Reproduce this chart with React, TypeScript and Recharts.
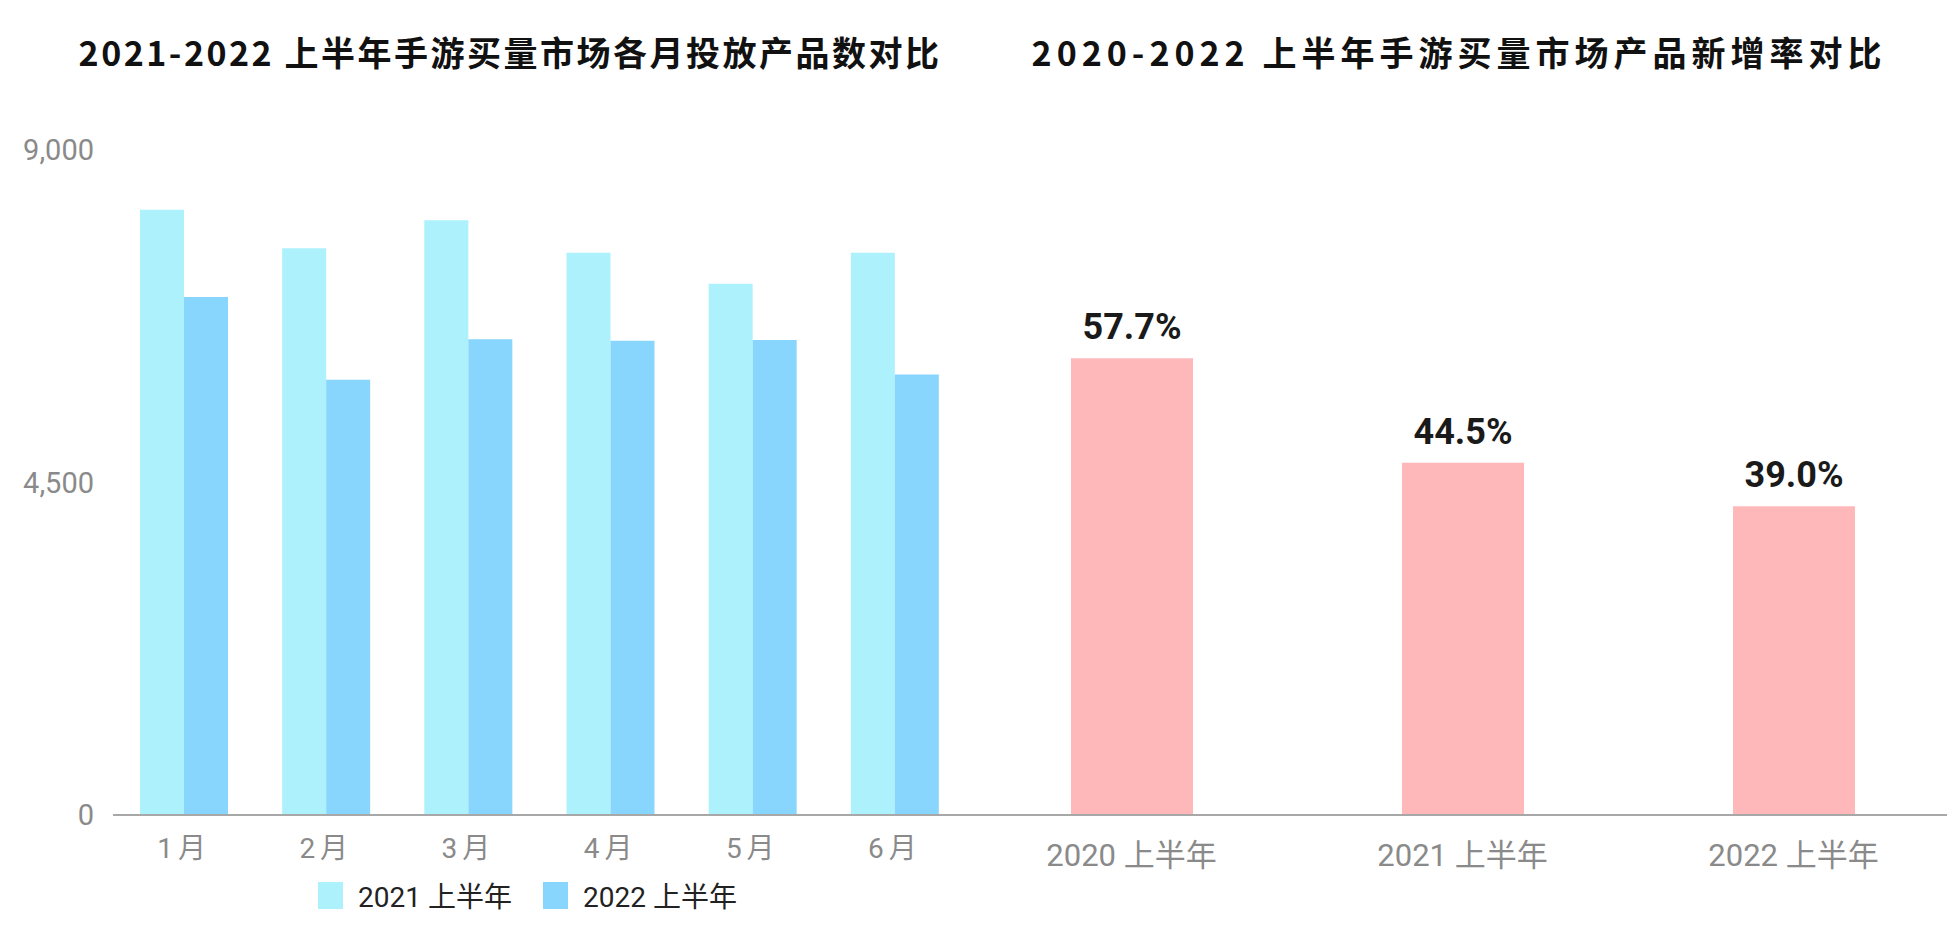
import React from "react";
import { BarChart, Bar, XAxis, YAxis, Legend, LabelList } from "recharts";

// left chart: monthly product counts
const months = ["1月", "2月", "3月", "4月", "5月", "6月"];
const counts2021 = [8190, 7670, 8050, 7610, 7190, 7610];
const counts2022 = [7010, 5890, 6440, 6420, 6430, 5960];
const countTicks = [0, 4500, 9000];

// right chart: new product rate
const halves = ["2020 上半年", "2021 上半年", "2022 上半年"];
const newRates = [57.7, 44.5, 39.0];

const LIGHT = "#adf1fd";
const DARK = "#88d6fd";
const PINK = "#feb8ba";
const AXIS = "#a8a8a8";
const TICK = "#8a8a8a";
const FONT = "Roboto, 'Noto Sans CJK SC', sans-serif";
const TITLE_FONT = "'Noto Sans CJK SC', sans-serif";

const monthData = months.map((m, i) => ({ month: m, y2021: counts2021[i], y2022: counts2022[i] }));
const rateData = halves.map((h, i) => ({ half: h, rate: newRates[i] }));

const LegendBox = ({ payload }: any) => (
    <div style={{ display: "flex", justifyContent: "center", paddingTop: 10, paddingLeft: 120 }}>
        {(payload || []).map((p: any) => (
            <div key={p.value} style={{ display: "flex", alignItems: "center", marginRight: 31 }}>
                <div style={{ width: 25, height: 27, background: p.color, marginRight: 15 }} />
                <span style={{ color: "#222", fontSize: 28, fontFamily: FONT }}>{p.value}</span>
            </div>
        ))}
    </div>
);

export default function App() {
    return (
        <div style={{ position: "absolute", left: 0, top: 0, width: 1947, height: 941, overflow: "hidden", background: "#fff" }}>
            <div style={{ position: "absolute", left: 0, width: 1020, top: 30, textAlign: "center", fontFamily: TITLE_FONT, fontWeight: 700, fontSize: 34, letterSpacing: 2.5, color: "#111", lineHeight: "44px" }}>
                2021-2022 上半年手游买量市场各月投放产品数对比
            </div>
            <div style={{ position: "absolute", left: 966, width: 986, top: 30, textAlign: "center", fontFamily: TITLE_FONT, fontWeight: 700, fontSize: 34, letterSpacing: 5, color: "#111", lineHeight: "44px" }}>
                2020-2022 上半年手游买量市场产品新增率对比
            </div>

            {/* left: grouped bars */}
            <div style={{ position: "absolute", left: 0, top: 0 }}>
                <BarChart width={966} height={941} data={monthData} barGap={0}
                    margin={{ top: 150, right: 0, bottom: 0, left: 0 }}>
                    <XAxis dataKey="month" axisLine={{ stroke: AXIS, strokeWidth: 2 }} tickLine={false}
                        tickMargin={17} height={50} interval={0}
                        tick={{ fill: TICK, fontSize: 28, fontFamily: FONT, letterSpacing: 5 }} />
                    <YAxis width={113} domain={[0, 9000]} ticks={countTicks} axisLine={false} tickLine={false}
                        tickMargin={13} tickFormatter={(v) => v.toLocaleString("en-US")}
                        tick={{ fill: TICK, fontSize: 29, fontFamily: FONT }} />
                    <Legend verticalAlign="bottom" height={76} content={<LegendBox />} />
                    <Bar dataKey="y2021" name="2021 上半年" fill={LIGHT} barSize={44} isAnimationActive={false} />
                    <Bar dataKey="y2022" name="2022 上半年" fill={DARK} barSize={44} isAnimationActive={false} />
                </BarChart>
            </div>

            {/* right: rate bars */}
            <div style={{ position: "absolute", left: 966, top: 0 }}>
                <BarChart width={993} height={941} data={rateData}
                    margin={{ top: 150, right: 0, bottom: 76, left: 0 }}>
                    <XAxis dataKey="half" axisLine={{ stroke: AXIS, strokeWidth: 2 }} tickLine={false}
                        tickMargin={23} height={50} interval={0}
                        tick={{ fill: TICK, fontSize: 31, fontFamily: FONT }} />
                    <YAxis hide domain={[0, 84]} />
                    <Bar dataKey="rate" fill={PINK} barSize={122} isAnimationActive={false}>
                        <LabelList dataKey="rate" position="top" offset={19}
                            formatter={(v: any) => `${Number(v).toFixed(1)}%`}
                            style={{ fill: "#1a1a1a", fontSize: 36, fontWeight: 700, fontFamily: FONT }} />
                    </Bar>
                </BarChart>
            </div>
        </div>
    );
}
